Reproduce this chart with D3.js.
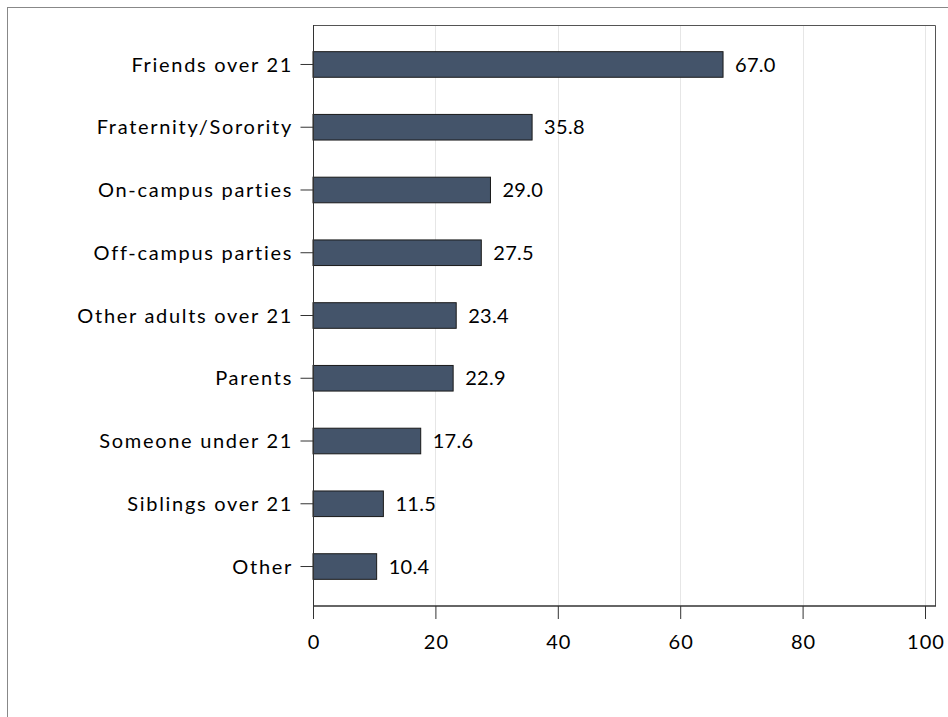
<!DOCTYPE html>
<html><head><meta charset="utf-8">
<script src="https://cdn.jsdelivr.net/npm/d3@7/dist/d3.min.js"></script>
<style>body{margin:0;background:#fff;} svg{display:block;} text{font-family:Lato,"Open Sans",sans-serif;fill:#000;}</style>
</head><body>
<svg id="c" width="948" height="717"></svg>
<script>
const categories = ["Friends over 21","Fraternity/Sorority","On-campus parties","Off-campus parties","Other adults over 21","Parents","Someone under 21","Siblings over 21","Other"];
const values = [67.0,35.8,29.0,27.5,23.4,22.9,17.6,11.5,10.4];
const xTicks = [0,20,40,60,80,100];

const svg = d3.select("#c");
const L = 313, R = 925, T = 25, B = 606, RB = 935;
const fs = 20;

svg.append("rect").attr("x",7.5).attr("y",7.5).attr("width",1000).attr("height",1000)
  .attr("fill","none").attr("stroke","#888").attr("stroke-width",1);

const x = d3.scaleLinear().domain([0,100]).range([L,R]);
const y = d3.scaleBand().domain(categories).range([T,B]).paddingInner(0.592).paddingOuter(0.425);

// gridlines
svg.append("g").selectAll("line").data(xTicks.filter(d=>d>0)).join("line")
  .attr("x1",d=>Math.round(x(d))+0.5).attr("x2",d=>Math.round(x(d))+0.5)
  .attr("y1",T).attr("y2",B).attr("stroke","#e6e6e6").attr("stroke-width",1);

// plot box top/right
svg.append("path").attr("d",`M${L},${T+0.5}H${RB+0.5}V${B}`).attr("fill","none").attr("stroke","#555").attr("stroke-width",1);

// bars
svg.append("g").selectAll("rect").data(values).join("rect")
  .attr("x",x(0)).attr("y",(d,i)=>y(categories[i]))
  .attr("width",d=>x(d)-x(0)).attr("height",y.bandwidth())
  .attr("fill","#44546A").attr("stroke","#1a1a1a").attr("stroke-width",1);

// value labels
svg.append("g").selectAll("text").data(values).join("text")
  .attr("x",d=>x(d)+12).attr("y",(d,i)=>y(categories[i])+y.bandwidth()/2)
  .attr("dy","0.36em").attr("font-size",fs).attr("letter-spacing","0.3px").text(d=>d.toFixed(1));

// y axis
const yAxis = d3.axisLeft(y).tickSize(13).tickPadding(7.5);
const gy = svg.append("g").attr("transform",`translate(${L+0.5},0)`).call(yAxis);
gy.select(".domain").attr("d",`M0,${T}V${B}`).attr("stroke","#333");
gy.selectAll(".tick line").attr("stroke","#333");
gy.selectAll(".tick text").attr("font-size",fs).attr("font-family","Lato").attr("fill","#000")
  .attr("dy","0.36em").attr("letter-spacing","1.7px");

// x axis
const xAxis = d3.axisBottom(x).tickValues(xTicks).tickSize(13).tickPadding(16).tickFormat(d3.format("d"));
const gx = svg.append("g").attr("transform",`translate(0,${B})`).call(xAxis);
gx.select(".domain").attr("d",`M${L},0H${RB+1}`).attr("stroke","#333").attr("stroke-width",1.6);
gx.selectAll(".tick line").attr("stroke","#333");
gx.selectAll(".tick text").attr("font-size",fs).attr("font-family","Lato").attr("fill","#000")
  .attr("letter-spacing","1px").attr("dx","0.5px");
</script>
</body></html>
